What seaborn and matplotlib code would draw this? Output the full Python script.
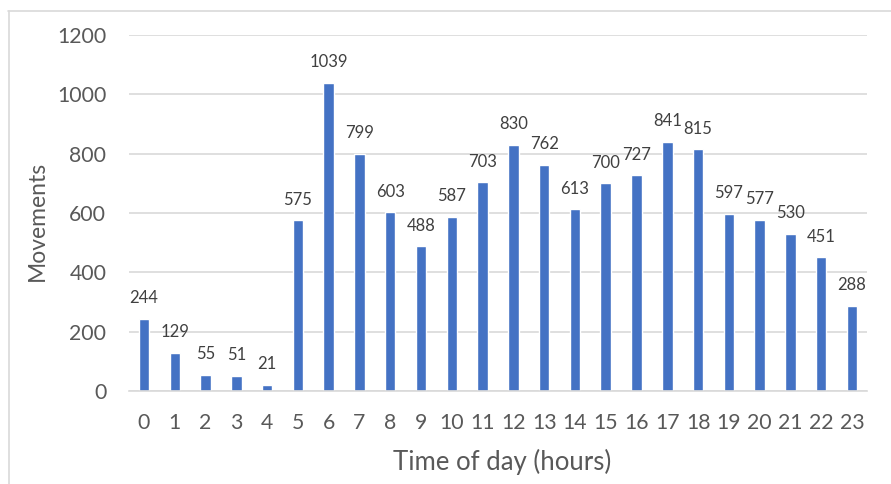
import matplotlib
matplotlib.use("Agg")
import matplotlib.pyplot as plt
import seaborn as sns
import pandas as pd
from matplotlib.lines import Line2D

hours = [str(h) for h in range(24)]
movements = [244, 129, 55, 51, 21, 575, 1039, 799, 603, 488, 587, 703, 830, 762,
             613, 700, 727, 841, 815, 597, 577, 530, 451, 288]
yticks = [0, 200, 400, 600, 800, 1000, 1200]

sns.set_theme(style="white")
plt.rcParams['font.family'] = ['Lato', 'DejaVu Sans']

df = pd.DataFrame({"hour": hours, "movements": movements})

fig = plt.figure(figsize=(8.91, 4.84), dpi=100)
ax = fig.add_axes([0.1443, 0.1921, 0.8292, 0.7356])

sns.barplot(data=df, x="hour", y="movements", color="#4472C4", width=0.34,
            saturation=1, ax=ax, order=hours)

ax.set_ylim(0, 1200)
ax.set_xlim(-0.5, 23.5)
ax.set_yticks(yticks)
ax.set_yticklabels([str(v) for v in yticks])
ax.yaxis.grid(True, color="#D9D9D9", linewidth=1.2)
ax.set_axisbelow(True)
for s in ["top", "right", "left"]:
    ax.spines[s].set_visible(False)
ax.spines["bottom"].set_color("#D9D9D9")
ax.spines["bottom"].set_linewidth(1.2)
ax.tick_params(axis="both", length=0, labelsize=15.3, colors="#595959")
ax.tick_params(axis="x", pad=16)
ax.tick_params(axis="y", pad=16)

for c in ax.containers:
    ax.bar_label(c, labels=[str(v) for v in movements], padding=9,
                 fontsize=12, color="#404040")

ax.set_xlabel("Time of day (hours)", fontsize=18.5, color="#595959")
ax.set_ylabel("Movements", fontsize=16.5, color="#595959")
ax.xaxis.set_label_coords(0.505, -0.163)
ax.yaxis.set_label_coords(-0.109, 0.478)

# figure border (top and left visible)
fig.add_artist(Line2D([8/891, 1], [1-10.5/484, 1-10.5/484], transform=fig.transFigure,
                      color="#D9D9D9", linewidth=1.2))
fig.add_artist(Line2D([8.5/891, 8.5/891], [0, 1-10.5/484], transform=fig.transFigure,
                      color="#D9D9D9", linewidth=1.2))

fig.savefig("out.png", dpi=100)
